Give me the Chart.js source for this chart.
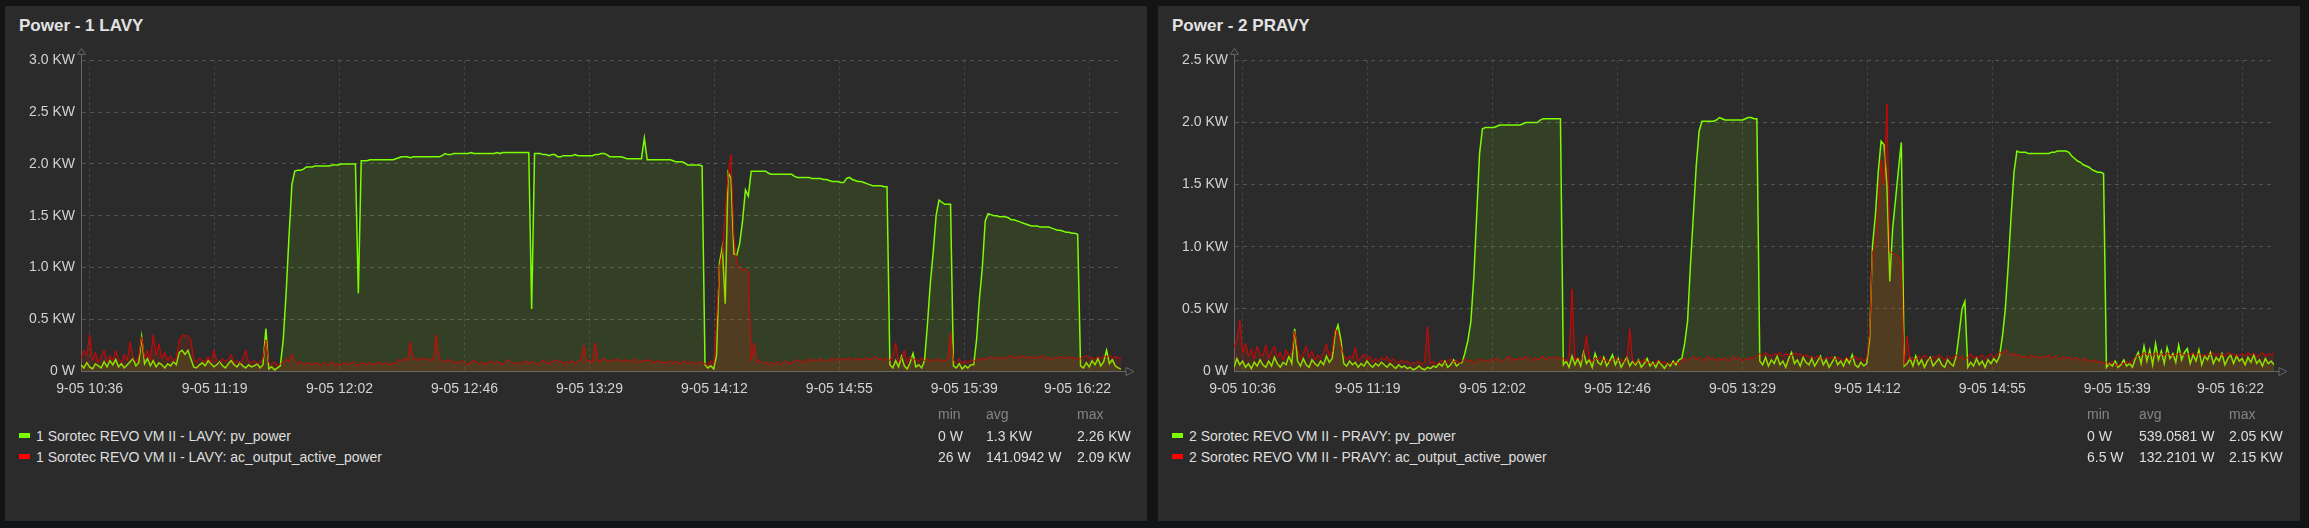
<!DOCTYPE html>
<html>
<head>
<meta charset="utf-8">
<script src="https://cdn.jsdelivr.net/npm/chart.js@4.4.1/dist/chart.umd.min.js"></script>
<style>
  body { margin: 0; width: 2309px; height: 528px; overflow: hidden; background: #131416;
         font-family: 'Liberation Sans', Arial, sans-serif; }
  .panel { position: absolute; top: 6px; width: 1142px; height: 515px; background: #2b2b2b; }
  .title { position: absolute; left: 14px; top: 10px; font-size: 17px; font-weight: bold;
           line-height: 20px; color: #e2e2e2; white-space: nowrap; }
  .plot { position: absolute; left: 0; top: 40px; }
  .lg { position: absolute; font-size: 14px; line-height: 21px; color: #dedede; white-space: nowrap; }
  .lg.head { color: #858585; }
  .swatch { position: absolute; left: 14px; width: 11px; height: 5px; }
</style>
</head>
<body>
<div class="panel" id="panel1" style="left:5px">
  <div class="title">Power - 1 LAVY</div>
  <div class="plot"><canvas id="chart1" width="1142" height="370"></canvas></div>
</div>
<div class="panel" id="panel2" style="left:1158px">
  <div class="title">Power - 2 PRAVY</div>
  <div class="plot"><canvas id="chart2" width="1142" height="370"></canvas></div>
</div>
<script>
// x axis: minutes since 09-05 10:33, one value per minute (0..360)
const tickMinutes = [3, 46.25, 89.5, 132.75, 176, 219.25, 262.5, 305.75, 349];
const tickLabels = ['9-05 10:36', '9-05 11:19', '9-05 12:02', '9-05 12:46', '9-05 13:29',
                    '9-05 14:12', '9-05 14:55', '9-05 15:39', '9-05 16:22'];

// values in kW
const lavyPv = [
  0.06, 0.03, 0.08, 0.04, 0.02, 0.07, 0.05, 0.03, 0.09, 0.04,
  0.1, 0.06, 0.11, 0.04, 0.07, 0.03, 0.06, 0.09, 0.12, 0.05,
  0.08, 0.33, 0.07, 0.12, 0.05, 0.1, 0.04, 0.08, 0.06, 0.03,
  0.07, 0.05, 0.09, 0.06, 0.18, 0.2, 0.16, 0.2, 0.12, 0.04,
  0.03, 0.06, 0.08, 0.05, 0.1, 0.07, 0.04, 0.06, 0.09, 0.05,
  0.03, 0.07, 0.1, 0.06, 0.04, 0.08, 0.05, 0.03, 0.06, 0.04,
  0.05, 0.07, 0.03, 0.06, 0.41, 0.02, 0.04, 0.01, 0.03, 0.05,
  0.3, 0.75, 1.3, 1.8, 1.93, 1.94, 1.94, 1.95, 1.97, 1.97,
  1.97, 1.98, 1.98, 1.98, 1.98, 1.98, 1.98, 1.99, 1.99, 1.99,
  2.0, 2.0, 2.0, 2.0, 2.0, 2.0, 0.75, 2.03, 2.03, 2.03,
  2.04, 2.04, 2.04, 2.04, 2.04, 2.04, 2.04, 2.04, 2.04, 2.05,
  2.06, 2.07, 2.07, 2.07, 2.06, 2.07, 2.07, 2.07, 2.07, 2.07,
  2.07, 2.07, 2.07, 2.07, 2.07, 2.08, 2.1, 2.09, 2.09, 2.1,
  2.1, 2.1, 2.1, 2.1, 2.1, 2.11, 2.1, 2.1, 2.1, 2.1,
  2.1, 2.1, 2.1, 2.1, 2.11, 2.1, 2.11, 2.11, 2.11, 2.11,
  2.11, 2.11, 2.11, 2.11, 2.11, 2.11, 0.6, 2.1, 2.1, 2.1,
  2.09, 2.09, 2.08, 2.09, 2.09, 2.07, 2.07, 2.08, 2.08, 2.08,
  2.08, 2.09, 2.08, 2.08, 2.08, 2.08, 2.08, 2.08, 2.09, 2.09,
  2.1, 2.1, 2.09, 2.07, 2.07, 2.07, 2.07, 2.07, 2.06, 2.05,
  2.05, 2.05, 2.05, 2.05, 2.05, 2.25, 2.04, 2.04, 2.04, 2.04,
  2.04, 2.04, 2.04, 2.04, 2.04, 2.03, 2.02, 2.02, 2.02, 2.01,
  1.99, 1.99, 1.99, 1.99, 1.99, 1.98, 0.06, 0.03, 0.05, 0.02,
  0.15, 1.04, 1.2, 0.65, 1.92, 1.86, 1.13, 1.12, 1.23, 1.45,
  1.75, 1.69, 1.93, 1.93, 1.93, 1.93, 1.93, 1.93, 1.91, 1.9,
  1.9, 1.9, 1.9, 1.9, 1.9, 1.9, 1.9, 1.88, 1.87, 1.87,
  1.87, 1.87, 1.87, 1.86, 1.86, 1.86, 1.86, 1.85, 1.85, 1.84,
  1.83, 1.83, 1.83, 1.82, 1.82, 1.86, 1.87, 1.85, 1.84, 1.83,
  1.83, 1.82, 1.81, 1.8, 1.79, 1.79, 1.79, 1.79, 1.78, 1.78,
  0.06, 0.03, 0.1, 0.04, 0.14, 0.05, 0.02, 0.08, 0.17, 0.04,
  0.06, 0.03, 0.1, 0.45, 0.85, 1.15, 1.5, 1.65, 1.63, 1.61,
  1.61, 1.61, 0.05, 0.03, 0.07, 0.02, 0.05, 0.03, 0.06, 0.06,
  0.3, 0.7, 1.0, 1.45, 1.52, 1.51, 1.5, 1.5, 1.49, 1.49,
  1.49, 1.48, 1.46, 1.46, 1.45, 1.44, 1.43, 1.42, 1.41, 1.4,
  1.4, 1.4, 1.39, 1.39, 1.39, 1.39, 1.38, 1.37, 1.36, 1.36,
  1.35, 1.34, 1.34, 1.33, 1.33, 1.32, 0.05, 0.03, 0.08, 0.04,
  0.1, 0.06, 0.12, 0.05, 0.09, 0.2, 0.07, 0.11, 0.05, 0.03,
  0.02
];
const lavyAc = [
  0.12, 0.2, 0.15, 0.35, 0.1, 0.18, 0.08, 0.14, 0.2, 0.09,
  0.15, 0.1, 0.2, 0.12, 0.08, 0.16, 0.1, 0.28, 0.12, 0.09,
  0.14, 0.33, 0.12, 0.2, 0.1, 0.35, 0.15, 0.26, 0.12, 0.18,
  0.1, 0.15, 0.09, 0.13, 0.3, 0.34, 0.34, 0.34, 0.3, 0.12,
  0.08, 0.13, 0.1, 0.09, 0.14, 0.08, 0.2, 0.1, 0.08, 0.12,
  0.09, 0.11, 0.16, 0.08, 0.1, 0.07, 0.12, 0.2, 0.09, 0.08,
  0.1, 0.07, 0.09, 0.12, 0.3, 0.08, 0.06, 0.09, 0.05, 0.07,
  0.08, 0.12, 0.09, 0.16, 0.1, 0.07, 0.09, 0.06, 0.08, 0.07,
  0.06, 0.08, 0.07, 0.05, 0.08, 0.06, 0.07, 0.09, 0.05, 0.07,
  0.06, 0.08, 0.07, 0.06, 0.09, 0.07, 0.05, 0.08, 0.07, 0.06,
  0.08, 0.06, 0.07, 0.09, 0.06, 0.08, 0.07, 0.06, 0.08, 0.07,
  0.11, 0.1, 0.12, 0.1, 0.28, 0.11, 0.12, 0.1, 0.13, 0.11,
  0.12, 0.1, 0.11, 0.35, 0.12, 0.1, 0.09, 0.11, 0.1, 0.08,
  0.09, 0.07, 0.1, 0.08, 0.06, 0.09, 0.1, 0.08, 0.07, 0.09,
  0.06, 0.08, 0.1, 0.07, 0.09, 0.08, 0.06, 0.09, 0.11, 0.08,
  0.07, 0.09, 0.06, 0.08, 0.1, 0.07, 0.09, 0.08, 0.06, 0.09,
  0.1, 0.08, 0.07, 0.09, 0.11, 0.08, 0.1, 0.07, 0.09, 0.08,
  0.1, 0.07, 0.09, 0.11, 0.25, 0.09, 0.1, 0.08, 0.27, 0.09,
  0.1, 0.12, 0.1, 0.09, 0.11, 0.1, 0.12, 0.09, 0.1, 0.11,
  0.09, 0.1, 0.12, 0.08, 0.1, 0.09, 0.11, 0.1, 0.08, 0.09,
  0.1, 0.08, 0.09, 0.07, 0.1, 0.08, 0.09, 0.07, 0.08, 0.1,
  0.07, 0.09, 0.08, 0.06, 0.09, 0.08, 0.07, 0.05, 0.1, 0.06,
  0.5, 1.0, 1.15, 1.55, 1.9, 2.09, 1.3, 1.05, 1.0, 0.97,
  0.99, 0.96, 0.1, 0.27, 0.08, 0.1, 0.07, 0.09, 0.06, 0.08,
  0.07, 0.09, 0.06, 0.08, 0.1, 0.07, 0.08, 0.09, 0.11, 0.08,
  0.1, 0.08, 0.12, 0.09, 0.11, 0.1, 0.12, 0.09, 0.11, 0.1,
  0.12, 0.1, 0.13, 0.1, 0.12, 0.11, 0.13, 0.1, 0.12, 0.11,
  0.12, 0.1, 0.13, 0.11, 0.12, 0.14, 0.11, 0.12, 0.1, 0.13,
  0.1, 0.15, 0.27, 0.09, 0.12, 0.2, 0.08, 0.14, 0.1, 0.12,
  0.09, 0.13, 0.1, 0.12, 0.09, 0.11, 0.1, 0.12, 0.09, 0.1,
  0.11, 0.37, 0.1, 0.08, 0.12, 0.07, 0.1, 0.08, 0.11, 0.09,
  0.12, 0.1, 0.13, 0.11, 0.12, 0.14, 0.12, 0.13, 0.11, 0.14,
  0.12, 0.13, 0.15, 0.12, 0.14, 0.13, 0.15, 0.12, 0.14, 0.13,
  0.12, 0.14, 0.13, 0.15, 0.12, 0.13, 0.11, 0.13, 0.12, 0.14,
  0.13, 0.12, 0.14, 0.12, 0.13, 0.11, 0.12, 0.14, 0.15, 0.12,
  0.13, 0.11, 0.14, 0.12, 0.15, 0.13, 0.16, 0.12, 0.14, 0.13,
  0.12
];
const pravyPv = [
  0.03, 0.1, 0.05, 0.08, 0.03, 0.06, 0.02, 0.07, 0.04, 0.09,
  0.05, 0.03, 0.08, 0.04, 0.11, 0.06, 0.03, 0.07, 0.05, 0.12,
  0.06, 0.34, 0.08, 0.04, 0.1, 0.05, 0.03, 0.09, 0.06, 0.04,
  0.08, 0.05, 0.12, 0.07, 0.1, 0.3, 0.37, 0.25, 0.06, 0.04,
  0.08, 0.05, 0.07, 0.03, 0.06, 0.04, 0.08, 0.05, 0.03, 0.06,
  0.04, 0.07, 0.05, 0.03, 0.06, 0.04, 0.02, 0.05, 0.03, 0.04,
  0.02, 0.03, 0.01, 0.02, 0.04, 0.02, 0.01, 0.03, 0.02, 0.04,
  0.03, 0.06, 0.04, 0.08, 0.03, 0.05, 0.09, 0.04, 0.06, 0.07,
  0.15, 0.25, 0.4, 0.75, 1.25, 1.75, 1.95, 1.96, 1.96, 1.96,
  1.96, 1.97, 1.98, 1.98, 1.98, 1.98, 1.98, 1.98, 1.98, 1.98,
  1.99, 2.0, 2.0, 2.0, 2.0, 2.0, 2.02, 2.03, 2.03, 2.03,
  2.03, 2.03, 2.03, 2.03, 0.05, 0.08, 0.03, 0.12, 0.05, 0.1,
  0.04, 0.15, 0.06, 0.09, 0.03, 0.14, 0.07, 0.05, 0.11, 0.04,
  0.08, 0.13, 0.05, 0.1, 0.03, 0.07, 0.11, 0.04, 0.08, 0.05,
  0.09, 0.03, 0.06, 0.1, 0.04, 0.07, 0.03, 0.08, 0.05, 0.02,
  0.06, 0.04, 0.08, 0.05, 0.09, 0.1, 0.22, 0.4, 0.85, 1.25,
  1.65, 1.93, 2.01, 2.01, 2.01, 2.01, 2.01, 2.02, 2.04, 2.03,
  2.02, 2.02, 2.02, 2.02, 2.02, 2.02, 2.02, 2.03, 2.04, 2.04,
  2.03, 2.03, 0.08, 0.05, 0.11, 0.04, 0.09, 0.06, 0.12, 0.05,
  0.08, 0.03, 0.1, 0.15, 0.06, 0.09, 0.04, 0.11, 0.07, 0.05,
  0.1, 0.04, 0.08, 0.12, 0.05, 0.09, 0.03, 0.07, 0.11, 0.05,
  0.08, 0.04, 0.1, 0.06, 0.13, 0.05, 0.03, 0.07, 0.04, 0.06,
  0.25, 1.0, 1.25, 1.6, 1.85, 1.82, 1.5, 0.72, 1.15, 1.38,
  1.62, 1.84, 0.04, 0.06, 0.1, 0.04, 0.12, 0.05, 0.09, 0.03,
  0.08, 0.11, 0.04, 0.07, 0.1, 0.05, 0.03, 0.09, 0.06, 0.04,
  0.12, 0.3, 0.5, 0.56, 0.03, 0.07, 0.04, 0.1, 0.05, 0.08,
  0.03, 0.09, 0.06, 0.1, 0.07, 0.12, 0.28, 0.5, 0.85, 1.25,
  1.6, 1.77, 1.76, 1.76, 1.76, 1.75, 1.75, 1.75, 1.75, 1.75,
  1.75, 1.75, 1.75, 1.76, 1.76, 1.77, 1.77, 1.77, 1.77, 1.76,
  1.73, 1.71, 1.69, 1.68, 1.66, 1.65, 1.64, 1.62, 1.61, 1.6,
  1.6, 1.59, 0.03, 0.06, 0.04, 0.08, 0.03, 0.05, 0.09, 0.04,
  0.06, 0.03, 0.1, 0.15, 0.06, 0.2, 0.08, 0.17, 0.05, 0.22,
  0.09, 0.16, 0.06, 0.19, 0.1, 0.14, 0.07, 0.21, 0.09, 0.15,
  0.18, 0.06, 0.13, 0.08, 0.17, 0.05, 0.12, 0.09, 0.15, 0.06,
  0.11, 0.08, 0.14, 0.05, 0.1, 0.13, 0.06, 0.12, 0.08, 0.1,
  0.05, 0.11, 0.07, 0.13, 0.06, 0.09, 0.04, 0.1, 0.06, 0.08,
  0.05
];
const pravyAc = [
  0.19, 0.25, 0.41, 0.15, 0.22, 0.12, 0.18, 0.1, 0.2, 0.14,
  0.12, 0.21, 0.1, 0.16, 0.2, 0.11, 0.15, 0.09, 0.17, 0.12,
  0.15, 0.32, 0.18, 0.1, 0.14, 0.2, 0.11, 0.16, 0.09, 0.13,
  0.1, 0.15, 0.22, 0.12, 0.16, 0.34, 0.3, 0.2, 0.13, 0.09,
  0.12, 0.1, 0.19, 0.08, 0.11, 0.14, 0.09, 0.12, 0.07, 0.1,
  0.08, 0.11, 0.09, 0.12, 0.07, 0.1, 0.08, 0.06, 0.09, 0.07,
  0.08, 0.05, 0.07, 0.06, 0.08, 0.05, 0.07, 0.36, 0.06, 0.08,
  0.05, 0.07, 0.09, 0.06, 0.08, 0.1, 0.07, 0.09, 0.06, 0.08,
  0.1, 0.07, 0.09, 0.06, 0.08, 0.1, 0.08, 0.09, 0.07, 0.1,
  0.08, 0.11, 0.09, 0.07, 0.1, 0.12, 0.08, 0.1, 0.09, 0.11,
  0.09, 0.12, 0.1, 0.08, 0.11, 0.09, 0.1, 0.12, 0.09, 0.11,
  0.1, 0.12, 0.09, 0.11, 0.1, 0.08, 0.12, 0.66, 0.09, 0.11,
  0.08, 0.12, 0.29, 0.1, 0.07, 0.11, 0.09, 0.12, 0.08, 0.1,
  0.07, 0.09, 0.11, 0.08, 0.1, 0.07, 0.09, 0.34, 0.08, 0.06,
  0.09, 0.07, 0.1, 0.06, 0.08, 0.05, 0.07, 0.09, 0.06, 0.08,
  0.05, 0.07, 0.06, 0.08, 0.05, 0.09, 0.11, 0.08, 0.1, 0.12,
  0.09, 0.11, 0.08, 0.1, 0.12, 0.09, 0.11, 0.08, 0.1, 0.09,
  0.11, 0.08, 0.1, 0.12, 0.09, 0.11, 0.08, 0.1, 0.09, 0.11,
  0.1, 0.12, 0.14, 0.12, 0.15, 0.13, 0.12, 0.14, 0.13, 0.15,
  0.12, 0.14, 0.13, 0.12, 0.15, 0.13, 0.14, 0.12, 0.13, 0.11,
  0.12, 0.1, 0.12, 0.11, 0.09, 0.11, 0.1, 0.12, 0.09, 0.11,
  0.1, 0.08, 0.11, 0.09, 0.1, 0.12, 0.09, 0.11, 0.08, 0.1,
  0.3, 0.96, 1.0, 1.32, 1.7, 1.5, 2.15, 0.96, 0.95, 0.94,
  0.92, 0.86, 0.05, 0.28, 0.09, 0.11, 0.09, 0.12, 0.1, 0.13,
  0.11, 0.09, 0.12, 0.1, 0.13, 0.11, 0.09, 0.12, 0.1, 0.11,
  0.13, 0.1, 0.12, 0.09, 0.11, 0.14, 0.1, 0.12, 0.11, 0.13,
  0.1, 0.12, 0.14, 0.11, 0.13, 0.15, 0.14, 0.17, 0.15, 0.13,
  0.14, 0.12, 0.13, 0.11, 0.12, 0.1, 0.13, 0.11, 0.12, 0.1,
  0.12, 0.11, 0.13, 0.1, 0.12, 0.11, 0.09, 0.12, 0.1, 0.11,
  0.09, 0.11, 0.1, 0.08, 0.1, 0.09, 0.07, 0.09, 0.08, 0.07,
  0.08, 0.06, 0.07, 0.05, 0.08, 0.06, 0.04, 0.07, 0.05, 0.08,
  0.06, 0.09, 0.11, 0.13, 0.12, 0.15, 0.13, 0.14, 0.12, 0.15,
  0.13, 0.14, 0.12, 0.15, 0.13, 0.12, 0.14, 0.13, 0.15, 0.12,
  0.14, 0.13, 0.15, 0.12, 0.14, 0.13, 0.12, 0.14, 0.13, 0.15,
  0.12, 0.14, 0.13, 0.12, 0.15, 0.13, 0.14, 0.12, 0.13, 0.14,
  0.12, 0.15, 0.13, 0.14, 0.12, 0.13, 0.15, 0.12, 0.14, 0.13,
  0.14
];

const lavyNames = ['1 Sorotec REVO VM II - LAVY: pv_power', '1 Sorotec REVO VM II - LAVY: ac_output_active_power'];
const lavyMin = ['0 W', '26 W'];
const lavyAvg = ['1.3 KW', '141.0942 W'];
const lavyMax = ['2.26 KW', '2.09 KW'];
const pravyNames = ['2 Sorotec REVO VM II - PRAVY: pv_power', '2 Sorotec REVO VM II - PRAVY: ac_output_active_power'];
const pravyMin = ['0 W', '6.5 W'];
const pravyAvg = ['539.0581 W', '132.2101 W'];
const pravyMax = ['2.05 KW', '2.15 KW'];

const pvColor = '#7cfc00';
const acColor = '#ff0000';
const axisColor = '#676767';
const tickColor = '#d2d2d2';
const fontFamily = "'Liberation Sans', Arial, sans-serif";

Chart.defaults.font.family = fontFamily;
Chart.defaults.font.size = 14;
Chart.defaults.color = tickColor;

// little open arrow heads on the axis ends, like the original
const axisArrows = {
  id: 'axisArrows',
  afterDraw(chart) {
    const { ctx, chartArea: a } = chart;
    const x = Math.round(a.left) + 0.5;
    const y = Math.round(a.bottom) + 0.5;
    ctx.save();
    ctx.strokeStyle = axisColor;
    ctx.lineWidth = 1;
    ctx.beginPath();
    ctx.moveTo(x, a.top); ctx.lineTo(x, a.top - 6);
    ctx.moveTo(a.right, y); ctx.lineTo(a.right + 5, y);
    ctx.stroke();
    ctx.beginPath();
    ctx.moveTo(x - 4, a.top - 6); ctx.lineTo(x, a.top - 12); ctx.lineTo(x + 4, a.top - 6);
    ctx.closePath();
    ctx.moveTo(a.right + 5, y - 4); ctx.lineTo(a.right + 13, y); ctx.lineTo(a.right + 5, y + 4);
    ctx.closePath();
    ctx.stroke();
    ctx.restore();
  }
};

// time labels under the x ticks; the last one is kept inside the plot like in the original
const timeLabels = {
  id: 'timeLabels',
  afterDraw(chart) {
    const { ctx, chartArea: a, scales: { x } } = chart;
    ctx.save();
    ctx.font = '14px ' + fontFamily;
    ctx.fillStyle = tickColor;
    ctx.textAlign = 'center';
    ctx.textBaseline = 'middle';
    tickMinutes.forEach((m, i) => {
      const w = ctx.measureText(tickLabels[i]).width;
      const px = Math.min(x.getPixelForValue(m), a.right - 10 - w / 2);
      ctx.fillText(tickLabels[i], px, a.bottom + 18);
    });
    ctx.restore();
  }
};

function makeChart(canvasId, pv, ac, yMax) {
  const toPoints = arr => arr.map((v, i) => ({ x: i, y: v }));
  return new Chart(document.getElementById(canvasId), {
    type: 'line',
    data: {
      datasets: [
        {
          data: toPoints(pv), borderColor: pvColor, borderWidth: 1.5,
          backgroundColor: 'rgba(124, 252, 0, 0.1)', fill: 'origin', order: 1
        },
        {
          data: toPoints(ac), borderColor: '#e00000', borderWidth: 1,
          backgroundColor: 'rgba(255, 40, 0, 0.14)', fill: 'origin', order: 0
        }
      ]
    },
    options: {
      responsive: false,
      animation: false,
      events: [],
      layout: { padding: { top: 13, right: 26, left: 0, bottom: 0 } },
      elements: { point: { radius: 0 }, line: { tension: 0 } },
      plugins: { legend: { display: false }, tooltip: { enabled: false } },
      scales: {
        x: {
          type: 'linear', min: 0, max: 360,
          afterBuildTicks: scale => { scale.ticks = tickMinutes.map(v => ({ value: v })); },
          afterFit: scale => { scale.height = 45; },
          ticks: { display: false },
          grid: { color: 'rgba(255,255,255,0.13)', drawTicks: false },
          border: { color: axisColor, dash: [3, 3] }
        },
        y: {
          min: 0, max: yMax,
          afterFit: scale => { scale.width = 76; },
          ticks: { stepSize: 0.5, padding: 6, callback: v => v === 0 ? '0 W' : v.toFixed(1) + ' KW' },
          grid: {
            color: c => c.tick && c.tick.value === 0 ? 'rgba(0,0,0,0)' : 'rgba(255,255,255,0.2)',
            drawTicks: false
          },
          border: { color: axisColor, dash: [4, 4] }
        }
      }
    },
    plugins: [axisArrows, timeLabels]
  });
}

function makeLegend(panelId, names, mins, avgs, maxs, cols) {
  const panel = document.getElementById(panelId);
  const add = (cls, text, left, top) => {
    const d = document.createElement('div');
    d.className = cls;
    d.textContent = text;
    d.style.left = left + 'px';
    d.style.top = top + 'px';
    panel.appendChild(d);
  };
  add('lg head', 'min', cols[0], 398);
  add('lg head', 'avg', cols[1], 398);
  add('lg head', 'max', cols[2], 398);
  const colors = [pvColor, acColor];
  names.forEach((name, i) => {
    const top = 420 + i * 21;
    const sw = document.createElement('div');
    sw.className = 'swatch';
    sw.style.top = (top + 7) + 'px';
    sw.style.background = colors[i];
    panel.appendChild(sw);
    add('lg', name, 31, top);
    add('lg', mins[i], cols[0], top);
    add('lg', avgs[i], cols[1], top);
    add('lg', maxs[i], cols[2], top);
  });
}

makeChart('chart1', lavyPv, lavyAc, 3);
makeChart('chart2', pravyPv, pravyAc, 2.5);
makeLegend('panel1', lavyNames, lavyMin, lavyAvg, lavyMax, [933, 981, 1072]);
makeLegend('panel2', pravyNames, pravyMin, pravyAvg, pravyMax, [929, 981, 1071]);
</script>
</body>
</html>
